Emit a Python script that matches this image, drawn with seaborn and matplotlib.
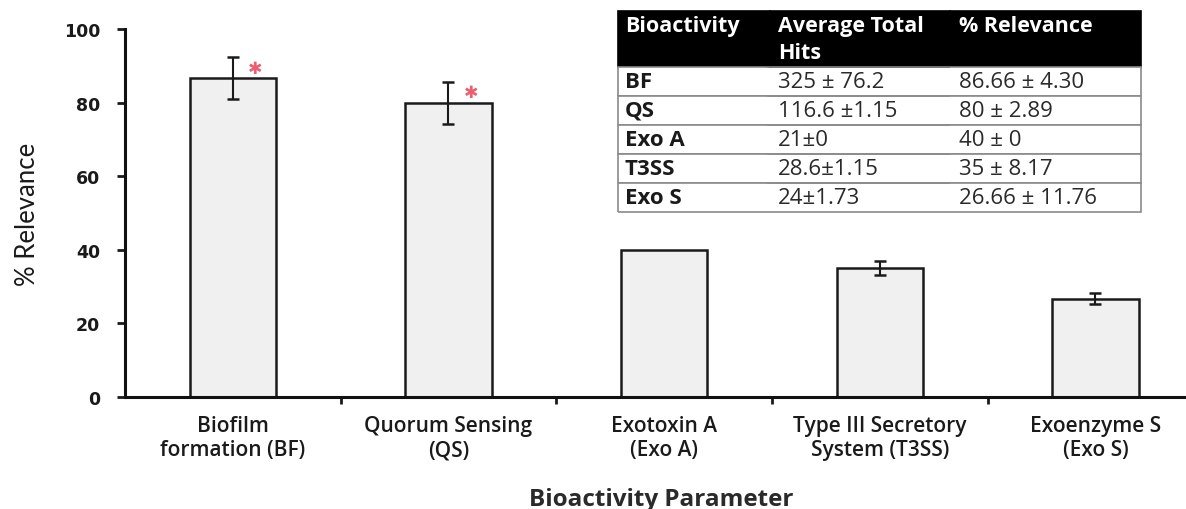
import matplotlib
matplotlib.use("Agg")
import matplotlib.pyplot as plt
import seaborn as sns
import pandas as pd
import numpy as np

# ---- data ----
categories = ["Biofilm\nformation (BF)", "Quorum Sensing\n(QS)", "Exotoxin A\n(Exo A)",
              "Type III Secretory\nSystem (T3SS)", "Exoenzyme S\n(Exo S)"]
relevance = [86.66, 80.0, 40.0, 35.0, 26.66]
errors = [5.8, 5.7, 0.0, 1.9, 1.5]
significant = [True, True, False, False, False]

table_header = ["Bioactivity\n ", "Average Total\nHits", "% Relevance\n "]
table_bioactivity = ["BF", "QS", "Exo A", "T3SS", "Exo S"]
table_hits = ["325 \u00b1 76.2", "116.6 \u00b11.15", "21\u00b10", "28.6\u00b11.15", "24\u00b11.73"]
table_relevance = ["86.66 \u00b1 4.30", "80 \u00b1 2.89", "40 \u00b1 0", "35 \u00b1 8.17", "26.66 \u00b1 11.76"]

sns.set_theme(style="white")
plt.rcParams['font.family'] = ['Open Sans', 'DejaVu Sans']

df = pd.DataFrame({"cat": categories, "val": relevance})

W, H, DPI = 1186, 510, 100
fig = plt.figure(figsize=(W / DPI, H / DPI), dpi=DPI)
ax_l, ax_r, ax_t, ax_b = 125, 1186, 30, 398
ax = fig.add_axes([ax_l / W, (H - ax_b) / H, (ax_r - ax_l) / W, (ax_b - ax_t) / H])

sns.barplot(data=df, x="cat", y="val", ax=ax, color="#f0f0f0", width=0.4,
            edgecolor="#1a1a1a", linewidth=1.8, saturation=1)
for p in ax.patches:
    p.set_facecolor("#f0f0f0")

xs = np.arange(len(categories))
err_x = [x for x, e in zip(xs, errors) if e > 0]
err_y = [v for v, e in zip(relevance, errors) if e > 0]
err_e = [e for e in errors if e > 0]
ax.errorbar(err_x, err_y, yerr=err_e, fmt="none", ecolor="#1a1a1a",
            elinewidth=1.5, capsize=4.5, capthick=1.8, zorder=5)

for x, v, s in zip(xs, relevance, significant):
    if s:
        ax.text(x + 0.105, v + 2.8, "\u2731", color="#e8344c", fontsize=12.5,
                ha="center", va="center", alpha=0.8, family="DejaVu Sans")

ax.set_xlim(-0.5, 4.42)
ax.set_ylim(0, 100)
ax.set_yticks([0, 20, 40, 60, 80, 100])
ax.set_yticklabels(["0", "20", "40", "60", "80", "100"], fontsize=12.5,
                   fontweight="bold", family="DejaVu Sans", color="#1a1a1a")
ax.set_xticks(xs)
ax.set_xticklabels(categories, fontsize=15, fontweight="semibold", color="#1a1a1a",
                   linespacing=1.2)
ax.set_xticks(xs[:-1] + 0.5, minor=True)
ax.tick_params(axis="x", which="major", length=0, pad=13)
ax.tick_params(axis="x", which="minor", length=5, width=2, direction="out", color="#1a1a1a", bottom=True)
ax.tick_params(axis="y", which="major", length=6, width=2, direction="out", color="#1a1a1a",
               pad=12, left=True)

for side in ["top", "right"]:
    ax.spines[side].set_visible(False)
for side in ["left", "bottom"]:
    ax.spines[side].set_color("#111111")
    ax.spines[side].set_linewidth(2.2)

ax.set_xlabel("Bioactivity Parameter", fontsize=17.5, fontweight="bold", color="#2a2a2a")
ax.xaxis.set_label_coords(0.505, -0.245)
ax.set_ylabel("% Relevance", fontsize=18.5, color="#1a1a1a", family=["Lato", "DejaVu Sans"])
ax.yaxis.set_label_coords(-0.08, 0.5)

# ---- table ----
cell_text = [list(r) for r in zip(table_bioactivity, table_hits, table_relevance)]
tl, tr, tt, tb = 618, 1141, 12, 213
bbox = [(tl - ax_l) / (ax_r - ax_l), (ax_b - tb) / (ax_b - ax_t),
        (tr - tl) / (ax_r - ax_l), (tb - tt) / (ax_b - ax_t)]
col_w = [0.29, 0.345, 0.365]
tab = ax.table(cellText=cell_text, colLabels=table_header, cellLoc="left",
               colLoc="left", colWidths=col_w, bbox=bbox, zorder=10)
tab.auto_set_font_size(False)
edges = {0: "BLT", 1: "BT", 2: "BTR"}
for (r, c), cell in tab.get_celld().items():
    cell.PAD = 0.045
    cell.set_linewidth(1.2)
    t = cell.get_text()
    if r == 0:
        cell.set_height(56 / 29)
        cell.set_facecolor("black")
        cell.set_edgecolor("black")
        t.set_color("white")
        t.set_fontweight("bold")
        t.set_fontsize(15.5)
        t.set_linespacing(1.4)
    else:
        cell.set_height(1.0)
        cell.visible_edges = edges[c]
        cell.set_facecolor("white")
        cell.set_edgecolor("#8a8a8a")
        t.set_fontsize(16)
        t.set_color("#2a2a2a")
        if c == 0:
            t.set_fontweight("bold")
            t.set_color("#1a1a1a")

fig.savefig("out.png", dpi=DPI)
